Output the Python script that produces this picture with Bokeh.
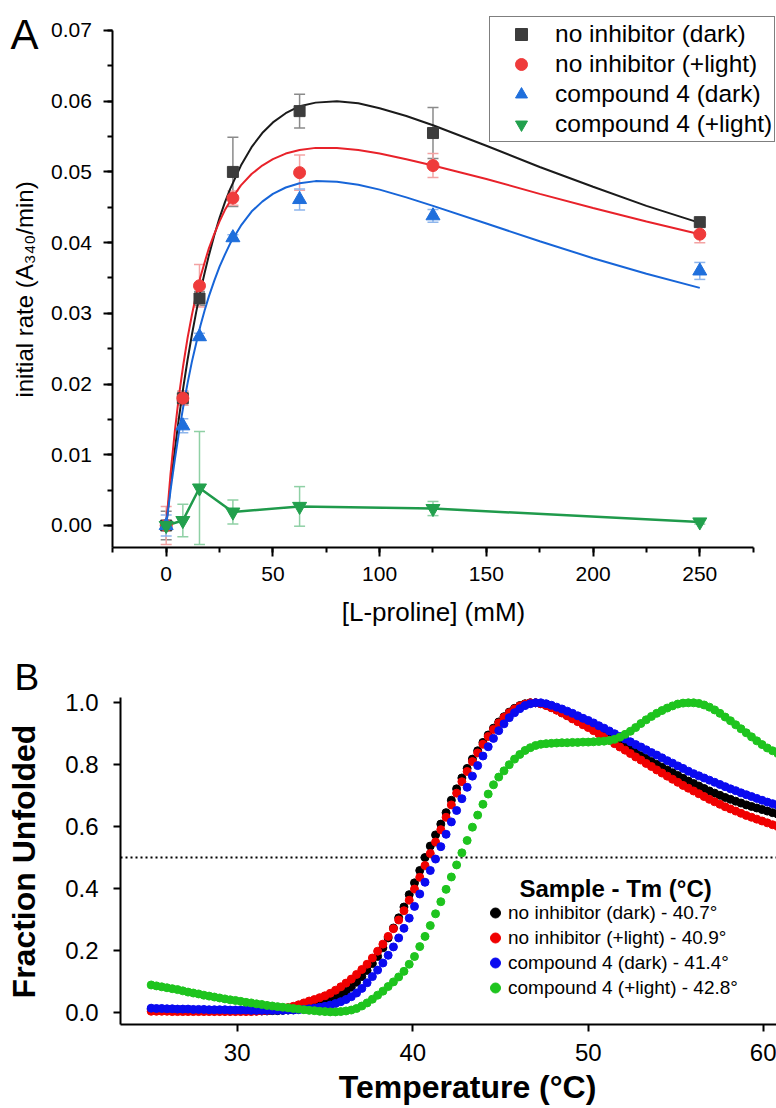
import math
from bokeh.plotting import figure
from bokeh.models import (ColumnDataSource, Whisker, TeeHead, Legend, LegendItem,
                          Label, SingleIntervalTicker, Range1d, NumeralTickFormatter)
from bokeh.layouts import column
from bokeh.embed import file_html
from bokeh.resources import INLINE

FONT = "Liberation Sans"

# ---------------- Panel A data ----------------
proline_mM = [0, 7.8, 15.6, 31.25, 62.5, 125, 250]
rate_noinh_dark = [0.0, 0.0180, 0.0321, 0.0500, 0.0586, 0.0555, 0.0429]
err_noinh_dark = [0.0020, 0.0010, 0.0010, 0.0049, 0.0024, 0.0036, 0.0004]
rate_noinh_light = [0.0, 0.0180, 0.0339, 0.0463, 0.0499, 0.0509, 0.0412]
err_noinh_light = [0.0027, 0.0010, 0.0030, 0.0010, 0.0025, 0.0017, 0.0012]
rate_c4_dark = [0.0, 0.0141, 0.0267, 0.0407, 0.0461, 0.0438, 0.0360]
err_c4_dark = [0.0015, 0.0010, 0.0005, 0.0004, 0.0015, 0.0009, 0.0012]
rate_c4_light = [0.0, 0.0007, 0.0053, 0.0019, 0.0027, 0.0024, 0.0005]
err_c4_light = [0.0005, 0.0023, 0.0080, 0.0017, 0.0028, 0.0010, 0.0003]

# fitted curves
fit_x = [0, 2, 4, 6, 8, 10, 12, 14, 16, 18, 20, 22.5, 25, 27.5, 30, 35, 40, 45, 50, 56,
         62.5, 70, 80, 90, 100, 112.5, 125, 150, 175, 200, 225, 250]
fit_noinh_dark = [0, 0.0056, 0.0106, 0.0153, 0.0195, 0.0234, 0.0269, 0.0301, 0.0331, 0.0357,
                  0.0382, 0.0410, 0.0435, 0.0457, 0.0476, 0.0509, 0.0535, 0.0555, 0.0570, 0.0583,
                  0.0593, 0.0598, 0.0600, 0.0597, 0.0590, 0.0579, 0.0566, 0.0537, 0.0507, 0.0479,
                  0.0452, 0.0428]
fit_noinh_light = [0, 0.0072, 0.0132, 0.0184, 0.0227, 0.0265, 0.0297, 0.0326, 0.0351, 0.0372,
                   0.0392, 0.0412, 0.0430, 0.0446, 0.0459, 0.0481, 0.0497, 0.0509, 0.0518, 0.0526,
                   0.0531, 0.0534, 0.0534, 0.0531, 0.0526, 0.0518, 0.0509, 0.0490, 0.0469, 0.0449,
                   0.0430, 0.0412]
fit_c4_dark = [0, 0.0049, 0.0092, 0.0132, 0.0168, 0.0201, 0.0231, 0.0257, 0.0282, 0.0304,
               0.0324, 0.0346, 0.0366, 0.0383, 0.0399, 0.0424, 0.0444, 0.0458, 0.0469, 0.0478,
               0.0484, 0.0487, 0.0486, 0.0482, 0.0475, 0.0464, 0.0452, 0.0427, 0.0402, 0.0378,
               0.0356, 0.0336]

legend_A = ["no inhibitor (dark)", "no inhibitor (+light)", "compound 4 (dark)", "compound 4 (+light)"]

# ---------------- Panel B data ----------------
temp_C = [25.1, 25.4, 25.7, 26.0, 26.3, 26.6, 26.9, 27.2, 27.5, 27.8,
          28.1, 28.4, 28.7, 29.0, 29.3, 29.6, 29.9, 30.2, 30.5, 30.8,
          31.1, 31.4, 31.7, 32.0, 32.3, 32.6, 32.9, 33.2, 33.5, 33.8,
          34.1, 34.4, 34.7, 35.0, 35.3, 35.6, 35.9, 36.2, 36.5, 36.8,
          37.1, 37.4, 37.7, 38.0, 38.3, 38.6, 38.9, 39.2, 39.5, 39.8,
          40.1, 40.4, 40.7, 41.0, 41.3, 41.6, 41.9, 42.2, 42.5, 42.8,
          43.1, 43.4, 43.7, 44.0, 44.3, 44.6, 44.9, 45.2, 45.5, 45.8,
          46.1, 46.4, 46.7, 47.0, 47.3, 47.6, 47.9, 48.2, 48.5, 48.8,
          49.1, 49.4, 49.7, 50.0, 50.3, 50.6, 50.9, 51.2, 51.5, 51.8,
          52.1, 52.4, 52.7, 53.0, 53.3, 53.6, 53.9, 54.2, 54.5, 54.8,
          55.1, 55.4, 55.7, 56.0, 56.3, 56.6, 56.9, 57.2, 57.5, 57.8,
          58.1, 58.4, 58.7, 59.0, 59.3, 59.6, 59.9, 60.2, 60.5, 60.8]

frac_noinh_dark = [0.010, 0.009, 0.009, 0.008, 0.008, 0.007, 0.007, 0.006, 0.006, 0.005,
                   0.005, 0.005, 0.004, 0.004, 0.004, 0.004, 0.004, 0.004, 0.004, 0.004,
                   0.004, 0.004, 0.004, 0.005, 0.005, 0.006, 0.007, 0.008, 0.010, 0.012,
                   0.015, 0.019, 0.023, 0.030, 0.037, 0.046, 0.056, 0.067, 0.081, 0.097,
                   0.115, 0.135, 0.157, 0.180, 0.208, 0.240, 0.272, 0.305, 0.340, 0.380,
                   0.418, 0.458, 0.500, 0.537, 0.573, 0.608, 0.645, 0.685, 0.722, 0.757,
                   0.788, 0.818, 0.845, 0.872, 0.896, 0.918, 0.938, 0.955, 0.970, 0.982,
                   0.991, 0.997, 1.000, 1.000, 0.997, 0.992, 0.985, 0.977, 0.968, 0.959,
                   0.950, 0.941, 0.932, 0.923, 0.914, 0.905, 0.896, 0.886, 0.877, 0.867,
                   0.858, 0.848, 0.839, 0.829, 0.820, 0.810, 0.801, 0.792, 0.783, 0.774,
                   0.765, 0.756, 0.747, 0.739, 0.731, 0.723, 0.715, 0.708, 0.701, 0.694,
                   0.688, 0.682, 0.676, 0.670, 0.665, 0.660, 0.655, 0.650, 0.645, 0.640]

frac_noinh_light = [0.003, 0.003, 0.003, 0.003, 0.002, 0.002, 0.002, 0.002, 0.002, 0.002,
                    0.002, 0.002, 0.002, 0.002, 0.002, 0.002, 0.002, 0.002, 0.002, 0.002,
                    0.003, 0.004, 0.005, 0.007, 0.009, 0.012, 0.015, 0.019, 0.024, 0.030,
                    0.036, 0.041, 0.047, 0.053, 0.061, 0.071, 0.082, 0.094, 0.107, 0.122,
                    0.138, 0.155, 0.175, 0.197, 0.220, 0.245, 0.270, 0.298, 0.328, 0.362,
                    0.398, 0.436, 0.474, 0.513, 0.550, 0.590, 0.630, 0.670, 0.708, 0.745,
                    0.778, 0.810, 0.838, 0.866, 0.891, 0.914, 0.935, 0.953, 0.968, 0.980,
                    0.990, 0.996, 1.000, 1.000, 0.997, 0.991, 0.984, 0.976, 0.967, 0.958,
                    0.948, 0.939, 0.929, 0.920, 0.910, 0.900, 0.890, 0.879, 0.868, 0.857,
                    0.847, 0.836, 0.825, 0.815, 0.804, 0.794, 0.783, 0.773, 0.763, 0.753,
                    0.743, 0.733, 0.724, 0.715, 0.706, 0.697, 0.688, 0.680, 0.672, 0.664,
                    0.657, 0.650, 0.643, 0.636, 0.630, 0.624, 0.618, 0.612, 0.606, 0.600]

frac_c4_dark = [0.013, 0.012, 0.012, 0.011, 0.011, 0.010, 0.010, 0.010, 0.009, 0.009,
                0.009, 0.008, 0.008, 0.008, 0.008, 0.007, 0.007, 0.007, 0.007, 0.006,
                0.006, 0.006, 0.006, 0.006, 0.006, 0.006, 0.007, 0.007, 0.008, 0.009,
                0.011, 0.013, 0.016, 0.019, 0.023, 0.028, 0.034, 0.041, 0.050, 0.062,
                0.077, 0.095, 0.115, 0.136, 0.159, 0.184, 0.211, 0.240, 0.271, 0.304,
                0.342, 0.382, 0.420, 0.458, 0.495, 0.535, 0.575, 0.615, 0.652, 0.690,
                0.727, 0.763, 0.797, 0.828, 0.858, 0.885, 0.910, 0.932, 0.952, 0.968,
                0.981, 0.991, 0.997, 1.000, 1.000, 0.997, 0.992, 0.986, 0.980, 0.973,
                0.966, 0.958, 0.950, 0.943, 0.935, 0.926, 0.918, 0.909, 0.900, 0.891,
                0.883, 0.874, 0.865, 0.857, 0.848, 0.839, 0.831, 0.822, 0.813, 0.805,
                0.796, 0.788, 0.779, 0.771, 0.764, 0.757, 0.750, 0.743, 0.736, 0.729,
                0.722, 0.716, 0.709, 0.703, 0.697, 0.691, 0.685, 0.679, 0.674, 0.668]

frac_c4_light = [0.088, 0.085, 0.082, 0.079, 0.076, 0.073, 0.069, 0.065, 0.062, 0.059,
                 0.055, 0.052, 0.049, 0.046, 0.043, 0.040, 0.038, 0.035, 0.032, 0.030,
                 0.027, 0.025, 0.022, 0.020, 0.018, 0.016, 0.014, 0.012, 0.010, 0.008,
                 0.006, 0.005, 0.003, 0.002, 0.001, 0.001, 0.002, 0.004, 0.007, 0.012,
                 0.020, 0.030, 0.042, 0.055, 0.068, 0.083, 0.098, 0.114, 0.132, 0.155,
                 0.180, 0.212, 0.245, 0.280, 0.318, 0.357, 0.397, 0.437, 0.476, 0.515,
                 0.555, 0.598, 0.637, 0.672, 0.705, 0.735, 0.760, 0.780, 0.800, 0.818,
                 0.833, 0.846, 0.855, 0.862, 0.866, 0.868, 0.869, 0.870, 0.871, 0.871,
                 0.872, 0.872, 0.873, 0.873, 0.874, 0.875, 0.876, 0.878, 0.882, 0.889,
                 0.898, 0.908, 0.920, 0.933, 0.945, 0.956, 0.966, 0.975, 0.983, 0.990,
                 0.996, 0.999, 1.000, 1.000, 0.998, 0.993, 0.986, 0.977, 0.966, 0.954,
                 0.942, 0.929, 0.916, 0.903, 0.890, 0.877, 0.865, 0.854, 0.845, 0.836]

legend_B = ["no inhibitor (dark) - 40.7\u00b0", "no inhibitor (+light) - 40.9\u00b0",
            "compound 4 (dark) - 41.4\u00b0", "compound 4 (+light) - 42.8\u00b0"]
tm_threshold = 0.5

# ---------------- layout constants (pixels / view extents) ----------------
W = 776
HA, HB = 650, 458
# panel A view and axis extents
A_XVIEW, A_YVIEW = (-77.63, 285.94), (-0.017677, 0.074242)
A_XAXIS, A_YAXIS = (-25, 275), (-0.00311, 0.07)
# panel B view and axis extents
B_XVIEW, B_YVIEW = (16.515, 60.724), (-0.31125, 1.16904)
B_XAXIS, B_YAXIS = (23.352, 60.724), (-0.0398, 1.0171)


def style_axis(ax, tick_size, tick_out=9, minor_out=5, standoff=10):
    ax.axis_line_width = 2
    ax.axis_line_color = "black"
    ax.major_tick_line_width = 2
    ax.minor_tick_line_width = 2
    ax.major_tick_in = 0
    ax.major_tick_out = tick_out
    ax.minor_tick_in = 0
    ax.minor_tick_out = minor_out
    ax.major_label_text_font = FONT
    ax.major_label_text_font_size = tick_size
    ax.major_label_text_color = "black"
    ax.major_label_standoff = standoff


def text_label(p, x, y, text, size, bold=False, align="left", angle=0.0):
    p.add_layout(Label(x=x, y=y, x_units="screen", y_units="screen", text=text,
                       text_font=FONT, text_font_size=size,
                       text_font_style="bold" if bold else "normal",
                       text_color="black", text_align=align, text_baseline="middle",
                       angle=angle))


def bare_figure(h, xview, yview):
    p = figure(width=W, height=h, x_range=Range1d(*xview), y_range=Range1d(*yview),
               output_backend="svg", toolbar_location=None, min_border=0)
    p.outline_line_color = None
    p.xgrid.visible = False
    p.ygrid.visible = False
    p.background_fill_color = "white"
    p.border_fill_color = "white"
    return p


# ================= Panel A =================
pA = bare_figure(HA, A_XVIEW, A_YVIEW)
pA.xaxis.ticker = SingleIntervalTicker(interval=50, num_minor_ticks=2)
pA.yaxis.ticker = SingleIntervalTicker(interval=0.01, num_minor_ticks=2)
pA.yaxis.formatter = NumeralTickFormatter(format="0.00")
style_axis(pA.xaxis[0], "21px", standoff=11)
style_axis(pA.yaxis[0], "21px", standoff=12)
pA.xaxis.fixed_location = A_YAXIS[0]
pA.yaxis.fixed_location = A_XAXIS[0]
pA.xaxis.bounds = A_XAXIS
pA.yaxis.bounds = A_YAXIS

series_A = [
    (rate_noinh_dark, err_noinh_dark, fit_noinh_dark, "#1b1b1b", "#3c3c3c", "#8a8a8a", "square", 11),
    (rate_noinh_light, err_noinh_light, fit_noinh_light, "#e8222a", "#ef3b3b", "#f3a3a3", "circle", 12),
    (rate_c4_dark, err_c4_dark, fit_c4_dark, "#1765d8", "#1f6fdc", "#8db5ec", "triangle", 14),
    (rate_c4_light, err_c4_light, None, "#1f9a4b", "#22a04d", "#8fd0a5", "inverted_triangle", 14),
]

for vals, errs, fit, lc, mc, ec, mk, sz in series_A:
    if fit is not None:
        pA.line(fit_x, fit, line_color=lc, line_width=2)
    else:
        pA.line(proline_mM, vals, line_color=lc, line_width=2.5)
    src = ColumnDataSource(dict(x=proline_mM,
                                lo=[v - e for v, e in zip(vals, errs)],
                                hi=[v + e for v, e in zip(vals, errs)]))
    pA.add_layout(Whisker(source=src, base="x", lower="lo", upper="hi", dimension="height",
                          line_color=ec, line_width=1.5,
                          upper_head=TeeHead(size=11, line_color=ec, line_width=1.5),
                          lower_head=TeeHead(size=11, line_color=ec, line_width=1.5)))

rend_A = []
for vals, errs, fit, lc, mc, ec, mk, sz in series_A:
    rend_A.append(pA.scatter(proline_mM, vals, marker=mk, size=sz, fill_color=mc, line_color=mc))

pA.add_layout(Legend(items=[LegendItem(label=lab, renderers=[r]) for lab, r in zip(legend_A, rend_A)],
                     location=(489, HA - 142), padding=2, spacing=0, margin=0,
                     glyph_width=58, glyph_height=30, label_height=30, label_standoff=5,
                     label_text_font=FONT, label_text_font_size="24.5px", label_text_color="black",
                     border_line_color="black", border_line_width=1.2,
                     background_fill_color="white", background_fill_alpha=1.0))

text_label(pA, 10, HA - 34, "A", "42px")
text_label(pA, 24, HA - 289, "initial rate (A\u2083\u2084\u2080/min)", "24px",
           align="center", angle=math.pi / 2)
text_label(pA, 433, HA - 611, "[L-proline] (mM)", "26px", align="center")

# ================= Panel B =================
pB = bare_figure(HB, B_XVIEW, B_YVIEW)
pB.xaxis.ticker = SingleIntervalTicker(interval=10, num_minor_ticks=0)
pB.yaxis.ticker = SingleIntervalTicker(interval=0.2, num_minor_ticks=0)
pB.yaxis.formatter = NumeralTickFormatter(format="0.0")
style_axis(pB.xaxis[0], "24px", tick_out=7, minor_out=0, standoff=12)
style_axis(pB.yaxis[0], "24px", tick_out=7, minor_out=0, standoff=15)
pB.xaxis.fixed_location = B_YAXIS[0]
pB.yaxis.fixed_location = B_XAXIS[0]
pB.xaxis.bounds = B_XAXIS
pB.yaxis.bounds = B_YAXIS

pB.line(list(B_XAXIS), [tm_threshold, tm_threshold], line_color="black",
        line_width=2, line_dash="2 3")

series_B = [
    (frac_noinh_dark, "#000000"),
    (frac_noinh_light, "#f00000"),
    (frac_c4_dark, "#0a0af0"),
    (frac_c4_light, "#1ec41e"),
]
rend_B = []
for vals, col in series_B:
    rend_B.append(pB.scatter(temp_C, vals, marker="circle", size=8, fill_color=col, line_color=col))

pB.add_layout(Legend(items=[LegendItem(label=lab, renderers=[r]) for lab, r in zip(legend_B, rend_B)],
                     location=(482, HB - 350), padding=0, spacing=0, margin=0,
                     glyph_width=26, glyph_height=25, label_height=25, label_standoff=0,
                     label_text_font=FONT, label_text_font_size="19px", label_text_color="black",
                     border_line_color=None, background_fill_alpha=0.0))

text_label(pB, 519, HB - 238, "Sample - Tm (\u00b0C)", "24px", bold=True)
text_label(pB, 14, HB - 27, "B", "37px")
text_label(pB, 23, HB - 211, "Fraction Unfolded", "32px", bold=True,
           align="center", angle=math.pi / 2)
text_label(pB, 467, HB - 436, "Temperature (\u00b0C)", "32px", bold=True, align="center")

layout = column(pA, pB, spacing=0)

with open("out.html", "w") as f:
    f.write(file_html(layout, INLINE))
